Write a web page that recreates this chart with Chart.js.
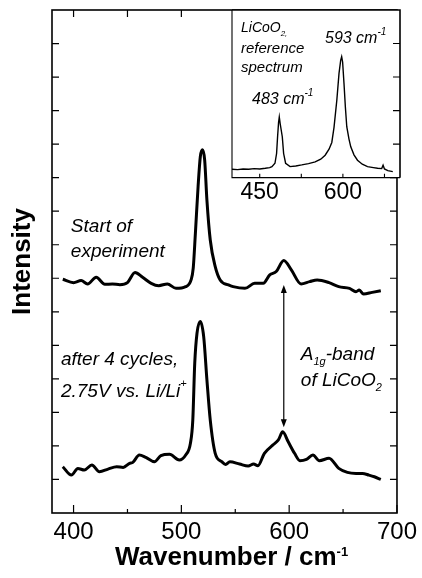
<!DOCTYPE html>
<html>
<head>
<meta charset="utf-8">
<script src="https://cdn.jsdelivr.net/npm/chart.js@4/dist/chart.umd.min.js"></script>
<style>
html,body{margin:0;padding:0;background:#fff;}
#wrap{position:relative;width:422px;height:578px;background:#fff;}
#wrap canvas{position:absolute;left:0;top:0;}
</style>
</head>
<body>
<div id="wrap">
<canvas id="main" width="422" height="578"></canvas>
<canvas id="inset" width="422" height="578"></canvas>
</div>
<script>
// ---- data ----
const startWavenumber = [390, 400, 407, 413, 421, 429, 436, 443, 450, 457, 464, 472, 479, 487, 495, 504, 509, 511, 513, 515.5, 517.6, 519.6, 521.6, 523.7, 526.8, 531.4, 536, 543.7, 548, 559, 568, 576, 582, 588, 595, 602, 611, 619, 626, 637, 646, 656, 662, 665, 669, 677, 685];
const startIntensity  = [6.97, 6.87, 6.93, 6.83, 7.03, 6.82, 6.83, 6.81, 6.87, 7.17, 7.03, 6.85, 6.78, 6.83, 6.70, 6.75, 6.95, 7.30, 8.34, 9.73, 10.63, 10.83, 10.53, 9.33, 8.14, 7.35, 6.95, 6.80, 6.75, 6.70, 6.85, 6.85, 7.10, 7.20, 7.53, 7.25, 6.83, 6.90, 6.95, 6.87, 6.75, 6.70, 6.60, 6.65, 6.53, 6.58, 6.63];

const cycledWavenumber = [390, 398, 404, 410, 417, 424, 432, 440, 446, 452, 455, 461, 467, 475, 481, 489, 498, 504, 508.4, 510.6, 512.4, 514.5, 517.6, 520.7, 523.7, 526.8, 531.4, 537.5, 541, 545, 554, 562, 567, 571, 577, 585, 590, 594, 599, 605, 610, 616, 622, 628, 637, 646, 654, 662, 668, 674, 679, 685];
const cycledIntensity  = [1.38, 1.13, 1.33, 1.28, 1.43, 1.23, 1.31, 1.38, 1.36, 1.48, 1.51, 1.73, 1.66, 1.53, 1.71, 1.75, 1.58, 1.73, 2.08, 2.77, 4.46, 5.36, 5.71, 5.26, 3.97, 2.77, 1.78, 1.53, 1.45, 1.53, 1.46, 1.40, 1.46, 1.41, 1.78, 2.03, 2.18, 2.42, 2.13, 1.78, 1.56, 1.60, 1.73, 1.56, 1.63, 1.33, 1.21, 1.18, 1.18, 1.13, 1.08, 1.00];

const refWavenumber = [400, 410, 420, 430, 440, 450, 460, 468, 472, 477.5, 480.4, 482.2, 484, 485.3, 487, 490.7, 493.1, 496.7, 504.7, 515, 525.8, 538, 550, 560, 568, 575, 580, 584, 589, 593, 596, 597.8, 599.5, 602, 604.5, 607, 611, 614.2, 620, 626.3, 635, 644.4, 655, 662.6, 670, 672.5, 675, 681, 690];
const refIntensity  = [0.25, 0.24, 0.26, 0.25, 0.27, 0.26, 0.28, 0.30, 0.33, 0.43, 0.72, 1.22, 1.65, 1.81, 1.60, 1.22, 0.72, 0.43, 0.33, 0.35, 0.38, 0.42, 0.47, 0.55, 0.67, 0.85, 1.05, 1.50, 2.30, 3.11, 3.50, 3.61, 3.45, 2.81, 2.10, 1.52, 1.15, 0.92, 0.68, 0.52, 0.40, 0.33, 0.30, 0.28, 0.27, 0.37, 0.26, 0.21, 0.18];

const mainXTicks  = [400, 450, 500, 550, 600, 650, 700];
const mainXLabels = [400, 500, 600, 700];
const mainYTicks  = [1, 2, 3, 4, 5, 6, 7, 8, 9, 10, 11, 12, 13, 14];
const insetXTicks  = [450, 525, 600, 675];
const insetXLabels = [450, 600];
const insetYTicks  = [1, 2, 3, 4];

// A1g band arrow (wavenumber, from / to intensity)
const bandArrow = { x: 595, y1: 6.80, y2: 2.56 };

// ---- helpers ----
const FONT = '"Liberation Sans", Arial, Helvetica, sans-serif';
const toXY = (xs, ys) => xs.map((x, i) => ({ x: x, y: ys[i] }));

function drawRich(ctx, parts, x, y, size, style) {
  let cx = x;
  parts.forEach(p => {
    const s = p.sub || p.sup ? Math.round(size * (p.scale || 0.6)) : size;
    ctx.font = (style || '') + ' ' + s + 'px ' + FONT;
    const dy = p.sub ? size * 0.28 : (p.sup ? -size * (p.rise || 0.45) : 0);
    ctx.fillText(p.t, cx, y + dy);
    cx += ctx.measureText(p.t).width;
  });
  return cx;
}

function arrowHead(ctx, x, y, dir) {
  ctx.beginPath();
  ctx.moveTo(x, y);
  ctx.lineTo(x - 3, y - dir * 8);
  ctx.lineTo(x + 3, y - dir * 8);
  ctx.closePath();
  ctx.fill();
}

const mainDecor = {
  id: 'mainDecor',
  afterDraw(chart) {
    const { ctx, chartArea: a, scales: { x, y } } = chart;
    ctx.save();
    ctx.strokeStyle = '#000';
    ctx.fillStyle = '#000';
    // frame
    ctx.lineWidth = 1.6;
    ctx.strokeRect(a.left, a.top, a.right - a.left, a.bottom - a.top);
    // inward ticks
    ctx.lineWidth = 1.2;
    ctx.beginPath();
    x.ticks.forEach(t => {
      const px = x.getPixelForValue(t.value);
      const len = mainXLabels.includes(t.value) ? 8 : 4;
      ctx.moveTo(px, a.bottom); ctx.lineTo(px, a.bottom - len);
      ctx.moveTo(px, a.top); ctx.lineTo(px, a.top + 7);
    });
    y.ticks.forEach(t => {
      const py = y.getPixelForValue(t.value);
      ctx.moveTo(a.left, py); ctx.lineTo(a.left + 7, py);
      ctx.moveTo(a.right, py); ctx.lineTo(a.right - 7, py);
    });
    ctx.stroke();

    // double arrow for A1g band
    const ax = x.getPixelForValue(bandArrow.x);
    const ay1 = y.getPixelForValue(bandArrow.y1);
    const ay2 = y.getPixelForValue(bandArrow.y2);
    ctx.lineWidth = 1.2;
    ctx.beginPath();
    ctx.moveTo(ax, ay1 + 4); ctx.lineTo(ax, ay2 - 4);
    ctx.stroke();
    arrowHead(ctx, ax, ay1, -1);
    arrowHead(ctx, ax, ay2, 1);

    // annotations (anchored in data coordinates)
    ctx.textAlign = 'left';
    ctx.textBaseline = 'alphabetic';
    const P = (wx, wy) => [x.getPixelForValue(wx), y.getPixelForValue(wy)];
    let p;
    p = P(397.5, 8.38); drawRich(ctx, [{ t: 'Start of' }], p[0], p[1], 19, 'italic');
    p = P(397.5, 7.63); drawRich(ctx, [{ t: 'experiment' }], p[0], p[1], 19, 'italic');
    p = P(388.3, 4.41); drawRich(ctx, [{ t: 'after 4 cycles,' }], p[0], p[1], 19, 'italic');
    p = P(388.3, 3.46); drawRich(ctx, [{ t: '2.75V vs. Li/Li' }, { t: '+', sup: true, scale: 0.6, rise: 0.55 }], p[0], p[1], 19, 'italic');
    p = P(610.8, 4.56); drawRich(ctx, [{ t: 'A' }, { t: '1g', sub: true, scale: 0.6 }, { t: '-band' }], p[0], p[1], 19, 'italic');
    p = P(610.8, 3.79); drawRich(ctx, [{ t: 'of LiCoO' }, { t: '2', sub: true, scale: 0.6 }], p[0], p[1], 19, 'italic');

    // x axis title with superscript
    drawRich(ctx, [{ t: 'Wavenumber / cm' }, { t: '-1', sup: true, scale: 0.5, rise: 0.35 }], 115, 565, 26, 'bold');
    ctx.restore();
  }
};

new Chart(document.getElementById('main'), {
  type: 'line',
  data: {
    datasets: [
      { label: 'Start of experiment', data: toXY(startWavenumber, startIntensity),
        borderColor: '#000', borderWidth: 3, pointRadius: 0, fill: false, cubicInterpolationMode: 'monotone' },
      { label: 'after 4 cycles, 2.75V vs. Li/Li+', data: toXY(cycledWavenumber, cycledIntensity),
        borderColor: '#000', borderWidth: 3, pointRadius: 0, fill: false, cubicInterpolationMode: 'monotone' }
    ]
  },
  options: {
    responsive: false, animation: false, devicePixelRatio: 1,
    layout: { padding: { top: 10, right: 22, left: 0, bottom: 0 } },
    plugins: { legend: { display: false }, tooltip: { enabled: false } },
    scales: {
      x: {
        type: 'linear', min: 380, max: 700, position: 'bottom',
        afterBuildTicks: s => { s.ticks = mainXTicks.map(v => ({ value: v })); },
        afterFit: s => { s.height = 65; },
        grid: { display: false, drawTicks: false }, border: { display: false },
        ticks: { autoSkip: false, maxRotation: 0, minRotation: 0, padding: 5, color: '#000',
          font: { family: FONT, size: 24 },
          callback: v => mainXLabels.includes(v) ? String(v) : '' }
      },
      y: {
        type: 'linear', min: 0, max: 15, position: 'left',
        afterBuildTicks: s => { s.ticks = mainYTicks.map(v => ({ value: v })); },
        afterFit: s => { s.width = 52; },
        grid: { display: false, drawTicks: false }, border: { display: false },
        ticks: { display: false },
        title: { display: true, text: 'Intensity', color: '#000',
          font: { family: FONT, size: 26, weight: 'bold' }, padding: { top: 7, bottom: 0 } }
      }
    }
  },
  plugins: [mainDecor]
});

const insetDecor = {
  id: 'insetDecor',
  beforeDraw(chart) {
    const { ctx, chartArea: a } = chart;
    ctx.save();
    ctx.fillStyle = '#fff';
    ctx.fillRect(a.left, a.top, a.right - a.left, a.bottom - a.top);
    ctx.restore();
  },
  afterDraw(chart) {
    const { ctx, chartArea: a, scales: { x, y } } = chart;
    ctx.save();
    ctx.strokeStyle = '#000';
    ctx.fillStyle = '#000';
    ctx.lineWidth = 1.1;
    ctx.beginPath();
    ctx.moveTo(a.left, a.top); ctx.lineTo(a.left, a.bottom); ctx.lineTo(a.right, a.bottom);
    ctx.stroke();
    ctx.lineWidth = 1.6;
    ctx.beginPath();
    ctx.moveTo(a.left, a.top); ctx.lineTo(a.right, a.top); ctx.lineTo(a.right, a.bottom);
    ctx.stroke();
    ctx.lineWidth = 1.1;
    ctx.beginPath();
    x.ticks.forEach(t => {
      const px = x.getPixelForValue(t.value);
      ctx.moveTo(px, a.bottom); ctx.lineTo(px, a.bottom - 4);
    });
    insetYTicks.forEach(v => {
      const py = y.getPixelForValue(v);
      ctx.moveTo(a.right, py); ctx.lineTo(a.right - 7, py);
    });
    ctx.stroke();

    ctx.textAlign = 'left';
    ctx.textBaseline = 'alphabetic';
    const P = (wx, wy) => [x.getPixelForValue(wx), y.getPixelForValue(wy)];
    let p;
    p = P(416.2, 4.34); drawRich(ctx, [{ t: 'LiCoO' }, { t: '2,', sub: true, scale: 0.6 }], p[0], p[1], 14, 'italic');
    p = P(416.2, 3.73); drawRich(ctx, [{ t: 'reference' }], p[0], p[1], 15, 'italic');
    p = P(416.2, 3.14); drawRich(ctx, [{ t: 'spectrum' }], p[0], p[1], 15, 'italic');
    p = P(436.1, 2.20); drawRich(ctx, [{ t: '483 cm' }, { t: '-1', sup: true, scale: 0.6, rise: 0.5 }], p[0], p[1], 16, 'italic');
    p = P(567.7, 4.02); drawRich(ctx, [{ t: '593 cm' }, { t: '-1', sup: true, scale: 0.6, rise: 0.5 }], p[0], p[1], 16, 'italic');
    ctx.restore();
  }
};

new Chart(document.getElementById('inset'), {
  type: 'line',
  data: {
    datasets: [
      { label: 'LiCoO2 reference spectrum', data: toXY(refWavenumber, refIntensity),
        borderColor: '#000', borderWidth: 1.4, pointRadius: 0, fill: false, tension: 0 }
    ]
  },
  options: {
    responsive: false, animation: false, devicePixelRatio: 1,
    layout: { padding: { top: 10, right: 22, left: 232, bottom: 0 } },
    plugins: { legend: { display: false }, tooltip: { enabled: false } },
    scales: {
      x: {
        type: 'linear', min: 400, max: 703, position: 'bottom',
        afterBuildTicks: s => { s.ticks = insetXTicks.map(v => ({ value: v })); },
        afterFit: s => { s.height = 578 - 177.67; },
        grid: { display: false, drawTicks: false }, border: { display: false },
        ticks: { autoSkip: false, maxRotation: 0, minRotation: 0, padding: 1, color: '#000',
          font: { family: FONT, size: 23 },
          callback: v => insetXLabels.includes(v) ? String(v) : '' }
      },
      y: { type: 'linear', min: 0, max: 5, display: false }
    }
  },
  plugins: [insetDecor]
});
</script>
</body>
</html>
